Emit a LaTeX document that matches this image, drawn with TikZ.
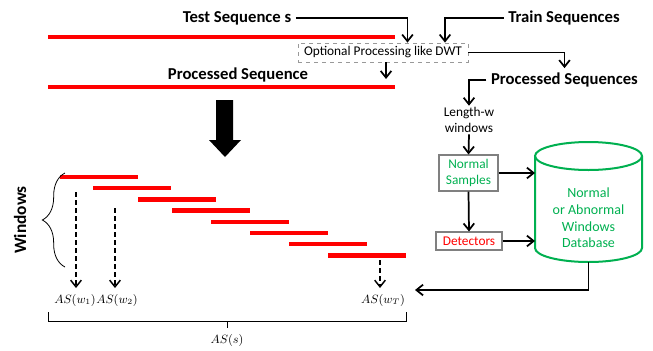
\documentclass[tikz,border=0pt]{standalone}
\usepackage{fontspec}
\setmainfont{Carlito}
\usetikzlibrary{calc,arrows.meta,decorations.pathreplacing}
\usetikzlibrary{positioning}
\definecolor{dbgreen}{RGB}{0,176,80}

\begin{document}
\begin{tikzpicture}[x=0.75pt,y=-0.75pt,
	conn/.style={line width=1.3pt,-{Straight Barb[length=5pt,width=8pt]}},
	dasharr/.style={conn,line width=1.1pt,dash pattern=on 4pt off 2pt},
	redseq/.style={red,line width=3.6pt},
	winbar/.style={red,line width=3.2pt},
	biglabel/.style={font=\fontsize{12.5}{14}\selectfont\bfseries},
	small/.style={font=\fontsize{10}{12}\selectfont,align=center},
	mathlabel/.style={font=\fontsize{8.6}{10}\selectfont,inner sep=1pt},
	box/.style={small,draw=gray,line width=0.8pt,inner sep=0pt}]
	\useasboundingbox (0,0) rectangle (653,350);
						% top: sequences and the processing box
						\node[biglabel] (test) at (237,18) {Test Sequence s};
						\node[biglabel] (train) at (564,18) {Train Sequences};
						\node[small,draw=gray!80,dashed,line width=0.6pt,inner sep=0pt,
								minimum width=127.5pt,minimum height=14.25pt] (opt) at (383,52.5)
								{Optional Processing like DWT};
						\node[biglabel] (procseq) at (238,75) {Processed Sequence};
						\node[biglabel] (procs) at (564.5,80) {Processed Sequences};
						\draw[redseq] (48,37) -- (395,37); % s
						\draw[redseq] (48,87) -- (395,87); % processed s
						\coordinate (proctip) at (386,79);
						\draw[conn] (test.east) -| ($(opt.north)+(24.5,0)$);
						\draw[conn] (train.west) -| ($(opt.north)+(62,0)$);
						\draw[conn] (opt.south -| proctip) -- (proctip);
						\draw[conn] (opt.east) -| (procs.north);
						% big arrow
						\fill (216,100) -- (233,100) -- (233,140) -- (241,140) -- (225,157) --
								(209,140) -- (216,140) -- cycle;
						% right: training side
						\node[small,inner sep=1pt] (lw) at (469,120) {Length-w\\windows};
						\draw[conn] (procs.west) -| (lw.north);
						\node[box,text=dbgreen,minimum width=44.25pt,minimum height=27pt]
								(ns) at (468.5,173) {Normal\\Samples};
						\node[box,text=red,minimum width=49.5pt,minimum height=13.5pt]
								(det) at (469,241) {Detectors};
						\draw[conn] (lw.south) -- (ns.north);
						\draw[conn] (ns.south) -- (det.north);
						% database
						\draw[dbgreen,line width=1.5pt] (535,156) -- (535,248)
								arc[start angle=180,end angle=0,x radius=53.5,y radius=14] -- (642,156);
						\draw[dbgreen,line width=1.5pt] (588.5,156) ellipse[x radius=53.5,y radius=14];
						\node[small,text=dbgreen,font=\fontsize{10.5}{12.5}\selectfont] (db) at (588.5,218)
								{Normal\\or Abnormal\\Windows\\Database};
						\coordinate (dbleft) at (535,200);
						\coordinate (dbbot) at (588.5,262);
						\coordinate (scoretip) at (415,290);
						\draw[conn] (ns.east) -- (ns.east -| dbleft);
						\draw[conn] (det.east) -- (det.east -| dbleft);
						\draw[conn] (dbbot) |- (scoretip);
						% windows
						\foreach \x [count=\i] in {60,93,138,172,211,250,289,328}
								\draw[winbar] (\x,165.8+11.2*\i) -- ++(78,0);
						\draw[line width=0.6pt,decorate,decoration={brace,amplitude=17pt}]
								(65,267) -- (65,173);
						\node[biglabel,font=\fontsize{13}{15}\selectfont\bfseries,rotate=90] (win) at (20,220) {Windows};
						\node[mathlabel] (as1) at (75,300) {$AS(w_1)$};
						\node[mathlabel] (as2) at (117,300) {$AS(w_2)$};
						\node[mathlabel] (asT) at (383,300) {$AS(w_T)$};
						\node[mathlabel] (ass) at (227,340) {$AS(s)$};
						\coordinate (w1) at (76,192);
						\coordinate (w2) at (115,208);
						\coordinate (wT) at (380,260);
						\draw[dasharr] (w1) -- (w1 |- 0,288);
						\draw[dasharr] (w2) -- (w2 |- 0,288);
						\draw[dasharr] (wT) -- (wT |- 0,288);
						\draw[line width=0.6pt] (48,312) -- (48,321) -- (406,321) -- (406,312); % AS(s)
						\draw[line width=0.6pt] (227,321) -- (227,328);
				\end{tikzpicture}
\end{document}
